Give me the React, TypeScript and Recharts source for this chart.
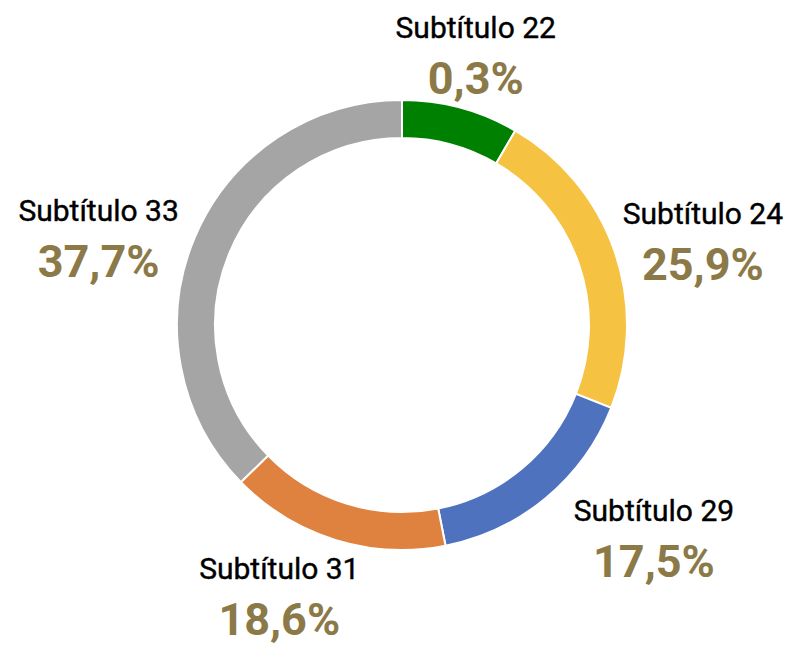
import { PieChart, Pie, Cell } from 'recharts';

const CATEGORIES = ['Subtítulo 22', 'Subtítulo 24', 'Subtítulo 29', 'Subtítulo 31', 'Subtítulo 33'];
// share of the ring each slice takes, as drawn
const SLICE_VALUES = [8.4, 22.6, 15.9, 15.8, 37.3];
// percentages printed next to each slice
const PERCENT_LABELS = ['0,3%', '25,9%', '17,5%', '18,6%', '37,7%'];

const COLORS = ['#008000', '#F5C242', '#4F72BE', '#E0823F', '#A5A5A5'];
const PERCENT_COLOR = '#8B7A47';
const FONT = 'Roboto, "Noto Sans", sans-serif';

// labels were hand-placed in the original, nudge them off the radial anchor
const LABEL_NUDGE: [number, number][] = [
  [2, -22],
  [41, -11],
  [76, -15],
  [-41, -9],
  [-50, 3],
];

const RADIAN = Math.PI / 180;

const data = CATEGORIES.map((name, i) => ({
  name,
  value: SLICE_VALUES[i],
  percent: PERCENT_LABELS[i],
}));

function renderLabel(props: any) {
  const { cx, cy, midAngle, outerRadius, index } = props;
  const r = outerRadius + 50;
  const [dx, dy] = LABEL_NUDGE[index] || [0, 0];
  const x = cx + r * Math.cos(-midAngle * RADIAN) + dx;
  const y = cy + r * Math.sin(-midAngle * RADIAN) + dy;
  return (
    <g key={`label-${index}`}>
      <text
        x={x}
        y={y}
        textAnchor="middle"
        fill="#000000"
        stroke="#000000"
        strokeWidth={0.4}
        fontFamily={FONT}
        fontSize={30}
        fontWeight={400}
      >
        {CATEGORIES[index]}
      </text>
      <text
        x={x}
        y={y + 56}
        textAnchor="middle"
        fill={PERCENT_COLOR}
        fontFamily={FONT}
        fontSize={45}
        fontWeight={700}
      >
        {PERCENT_LABELS[index]}
      </text>
    </g>
  );
}

export default function App() {
  return (
    <div style={{ position: 'absolute', left: 0, top: 0, width: 791, height: 645, background: '#fff' }}>
      <PieChart width={791} height={645} margin={{ top: 0, right: 0, bottom: 0, left: 0 }}>
        <Pie
          data={data}
          dataKey="value"
          nameKey="name"
          cx={402}
          cy={325}
          innerRadius={187}
          outerRadius={225}
          startAngle={90}
          endAngle={-270}
          stroke="#ffffff"
          strokeWidth={2}
          label={renderLabel}
          labelLine={false}
          isAnimationActive={false}
        >
          {data.map((d, i) => (
            <Cell key={d.name} fill={COLORS[i]} />
          ))}
        </Pie>
      </PieChart>
    </div>
  );
}
